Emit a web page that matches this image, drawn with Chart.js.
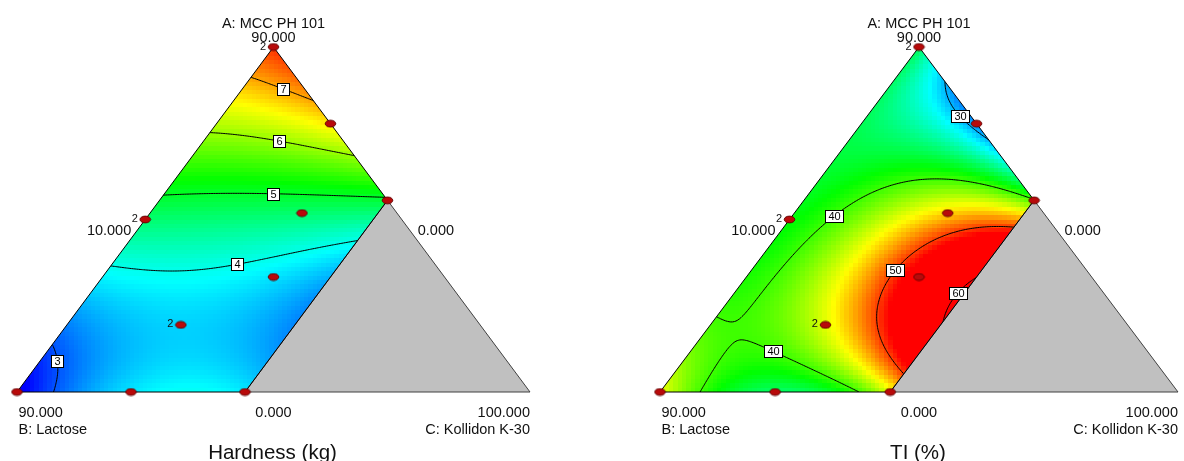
<!DOCTYPE html>
<html>
<head>
<meta charset="utf-8">
<script src="https://cdn.jsdelivr.net/npm/chart.js@4.4.1/dist/chart.umd.min.js"></script>
<style>
  html, body { margin: 0; padding: 0; background: #ffffff; }
  #wrap { display: flex; width: 1184px; height: 461px; }
  canvas { display: block; }
</style>
</head>
<body>
<div id="wrap">
  <canvas id="hardness" width="592" height="461"></canvas>
  <canvas id="ti" width="592" height="461"></canvas>
</div>
<script>
// ---- Mixture components (real units, A + B + C = 100) ----
const compNames = ['A: MCC PH 101', 'B: Lactose', 'C: Kollidon K-30'];
const compLow = [0, 0, 10];
const compHigh = [90, 90, 100];
const kollidonMax = 50;            // upper limit on C: the grey corner is outside the design space

// ---- Design runs ----
const runA = [90, 70, 50, 45, 46.67, 30, 17.5, 0, 0, 0];
const runB = [0, 0, 0, 45, 16.67, 30, 52.5, 90, 70, 50];
const runC = [10, 30, 50, 10, 36.66, 40, 30, 10, 30, 50];
const runReplicates = [2, 1, 1, 2, 1, 1, 2, 1, 1, 1];

// ---- Hardness (kg) readings over the design space (B = 100 - A - C) ----
const hardA = [
  90, 80, 80, 70, 70, 70, 60, 60, 60, 60,
  50, 50, 50, 50, 50, 40, 40, 40, 40, 40,
  30, 30, 30, 30, 30, 20, 20, 20, 20, 20,
  10, 10, 10, 10, 10, 0, 0, 0, 0, 0,
  82.1, 80.1, 75.5, 67.3, 66.3, 61.1, 51.3, 51.2, 52.7, 50.8,
  33.4, 31.8, 31.1, 34.4, 37.5, 39.8, 12.7, 7, 0
];
const hardC = [
  10, 10, 20, 10, 20, 30, 10, 20, 30, 40,
  10, 20, 30, 40, 50, 10, 20, 30, 40, 50,
  10, 20, 30, 40, 50, 10, 20, 30, 40, 50,
  10, 20, 30, 40, 50, 10, 20, 30, 40, 50,
  10, 17.1, 24.5, 10, 23.1, 38.9, 10, 20, 28.7, 49.2,
  10, 15.6, 22.4, 31.1, 40.9, 50, 10, 13.7, 16.1
];
const hardVal = [
  7.6, 6.86, 7.32, 6.18, 6.35, 6.62, 5.54, 5.60, 5.73, 5.90,
  4.93, 4.94, 4.93, 4.93, 4.93, 4.37, 4.42, 4.28, 4.15, 4.0,
  3.84, 3.95, 3.82, 3.72, 3.55, 3.25, 3.55, 3.8, 3.7, 3.3,
  2.9, 3.45, 3.78, 3.82, 3.5, 2.5, 3.2, 3.68, 3.78, 3.72,
  7, 7, 7, 6, 6, 6, 5, 5, 5, 5,
  4, 4, 4, 4, 4, 4, 3, 3, 3
];
const hardLevels = [3, 4, 5, 6, 7];

// ---- TI (%) readings over the design space (B = 100 - A - C) ----
const tiA = [
  90, 80, 80, 70, 70, 70, 60, 60, 60, 60,
  50, 50, 50, 50, 50, 40, 40, 40, 40, 40,
  30, 30, 30, 30, 30, 20, 20, 20, 20, 20,
  10, 10, 10, 10, 10, 0, 0, 0, 0, 0,
  85, 72.3, 75,
  81, 76.2, 72.3, 69.2, 64.7,
  18.8, 20.5, 26.6, 31.8, 45.5, 51.8, 54.4, 54.7, 53.6, 50.5,
  0, 4.4, 11, 11.8, 9.6, 5.7, 0,
  43.6, 42.7, 39.7, 35.3, 31.8, 24.9, 18.8, 15.3, 9.2, 5.2,
  29.2, 24.9, 21.4, 18.3
];
const tiC = [
  10, 10, 20, 10, 20, 30, 10, 20, 30, 40,
  10, 20, 30, 40, 50, 10, 20, 30, 40, 50,
  10, 20, 30, 40, 50, 10, 20, 30, 40, 50,
  10, 20, 30, 40, 50, 10, 20, 30, 40, 50,
  15, 24.6, 24.5,
  19, 22.3, 26.4, 29.8, 35.3,
  10.2, 13.5, 16.2, 17, 18, 20.2, 25.7, 29.6, 37.7, 48.9,
  16.6, 17.2, 20.6, 24, 27.5, 35.8, 44.7,
  50, 40.2, 36, 34.8, 34.8, 36, 38.6, 40.8, 45.5, 49.5,
  50, 49.2, 49.2, 50
];
const tiVal = [
  35.2, 36, 29.8, 37, 33.5, 29, 37.3, 37.8, 34.5, 33,
  38.3, 40.3, 42.6, 43.8, 40.5, 38.8, 41.2, 46.6, 51.8, 52.5,
  38.5, 41.7, 47.2, 54.5, 59.5, 40, 42.7, 46.5, 51.8, 60.8,
  42, 40, 41, 47, 54, 44.5, 38.3, 36, 38, 46,
  32.5, 31.5, 29.3,
  30, 30, 30, 30, 30,
  40, 40, 40, 40, 40, 40, 40, 40, 40, 40,
  40, 40, 40, 40, 40, 40, 40,
  50, 50, 50, 50, 50, 50, 50, 50, 50, 50,
  60, 60, 60, 60
];
const tiLevels = [30, 40, 50, 60];

// ---- Panel setup ----
const FONT = '"Liberation Sans", Arial, Helvetica, sans-serif';
const panels = {
  hardness: {
    title: 'Hardness (kg)',
    A: hardA, C: hardC, V: hardVal, levels: hardLevels, degree: 3,
    colorMin: 2.58, colorMax: 7.84,
    padding: { left: 17, right: 62, top: 47, bottom: 69 },
    labelSpots: [ {level: 7, A: 80.3, C: 16.9}, {level: 6, A: 66.4, C: 22.9},
                  {level: 5, A: 52.6, C: 28.7}, {level: 4, A: 34.2, C: 31.3},
                  {level: 3, A: 8.2, C: 13.1} ]
  },
  ti: {
    title: 'TI (%)',
    A: tiA, C: tiC, V: tiVal, levels: tiLevels, degree: 4,
    colorMin: 25.3, colorMax: 51.6,
    padding: { left: 68, right: 1, top: 47, bottom: 69 },
    labelSpots: [ {level: 30, A: 72.4, C: 26.3}, {level: 40, A: 45.4, C: 17.9},
                  {level: 50, A: 32.0, C: 34.8}, {level: 60, A: 26.3, C: 48.3},
                  {level: 40, A: 11.8, C: 24.2} ]
  }
};

// ---- Ternary helpers: pseudo components and plot coordinates ----
const span = compHigh[0] - compLow[0];
function pseudo(A, C) { return { a: (A - compLow[0]) / span, c: (C - compLow[2]) / span }; }
function toXY(A, C) { const p = pseudo(A, C); return { x: p.c + p.a / 2, y: p.a }; }
const cMax = (kollidonMax - compLow[2]) / span;

// Least-squares polynomial mixture surface in the pseudo components;
// readings taken on a contour line (value equal to a level) count three times.
function fitSurface(A, C, V, degree, levels) {
  const terms = [];
  for (let i = 0; i <= degree; i++) for (let j = 0; j <= degree - i; j++) terms.push([i, j]);
  const n = terms.length;
  const M = Array.from({ length: n }, () => new Float64Array(n + 1));
  for (let k = 0; k < V.length; k++) {
    const p = pseudo(A[k], C[k]);
    const w = levels.includes(V[k]) ? 3 : 1;
    const row = terms.map(([i, j]) => Math.pow(p.c, i) * Math.pow(p.a, j));
    for (let r = 0; r < n; r++) {
      for (let s = 0; s < n; s++) M[r][s] += w * row[r] * row[s];
      M[r][n] += w * row[r] * V[k];
    }
  }
  for (let col = 0; col < n; col++) {
    let piv = col;
    for (let r = col + 1; r < n; r++) if (Math.abs(M[r][col]) > Math.abs(M[piv][col])) piv = r;
    const tmp = M[col]; M[col] = M[piv]; M[piv] = tmp;
    for (let r = 0; r < n; r++) {
      if (r === col) continue;
      const f = M[r][col] / M[col][col];
      for (let s = col; s <= n; s++) M[r][s] -= f * M[col][s];
    }
  }
  const coef = M.map((r, i) => r[n] / r[i]);
  return (c, a) => {
    let v = 0;
    for (let t = 0; t < n; t++) v += coef[t] * Math.pow(c, terms[t][0]) * Math.pow(a, terms[t][1]);
    return v;
  };
}

// Blue - cyan - green - yellow - red colour ramp
const ramp = [[0, 0, 255], [0, 255, 255], [0, 255, 0], [255, 255, 0], [255, 0, 0]];
function rampColor(t) {
  t = Math.max(0, Math.min(1, t)) * 4;
  const i = Math.min(3, Math.floor(t)), f = t - i;
  const c0 = ramp[i], c1 = ramp[i + 1];
  return 'rgb(' + Math.round(c0[0] + (c1[0] - c0[0]) * f) + ',' +
    Math.round(c0[1] + (c1[1] - c0[1]) * f) + ',' + Math.round(c0[2] + (c1[2] - c0[2]) * f) + ')';
}

// Marching squares over the plot box (x, y in [0, 1])
const msTable = {1: [[3, 0]], 2: [[0, 1]], 3: [[3, 1]], 4: [[1, 2]], 5: [[3, 0], [1, 2]], 6: [[0, 2]],
  7: [[2, 3]], 8: [[2, 3]], 9: [[0, 2]], 10: [[0, 1], [2, 3]], 11: [[1, 2]], 12: [[1, 3]],
  13: [[0, 1]], 14: [[3, 0]]};
function contourSegments(grid, nx, ny, level) {
  const segs = [];
  const lerp = (x0, y0, v0, x1, y1, v1) => { const t = (level - v0) / (v1 - v0); return [x0 + (x1 - x0) * t, y0 + (y1 - y0) * t]; };
  for (let j = 0; j < ny; j++) {
    for (let i = 0; i < nx; i++) {
      const x0 = i / nx, x1 = (i + 1) / nx, y0 = j / ny, y1 = (j + 1) / ny;
      const v0 = grid[j][i], v1 = grid[j][i + 1], v2 = grid[j + 1][i + 1], v3 = grid[j + 1][i];
      const idx = (v0 > level ? 1 : 0) | (v1 > level ? 2 : 0) | (v2 > level ? 4 : 0) | (v3 > level ? 8 : 0);
      if (idx === 0 || idx === 15) continue;
      const edge = k => {
        if (k === 0) return lerp(x0, y0, v0, x1, y0, v1);
        if (k === 1) return lerp(x1, y0, v1, x1, y1, v2);
        if (k === 2) return lerp(x1, y1, v2, x0, y1, v3);
        return lerp(x0, y1, v3, x0, y0, v0);
      };
      for (const pq of msTable[idx]) segs.push([edge(pq[0]), edge(pq[1])]);
    }
  }
  return segs;
}

// Elliptical marker for design runs
function makeMarker() {
  const cv = document.createElement('canvas');
  cv.width = 13; cv.height = 9;
  const g = cv.getContext('2d');
  g.beginPath();
  g.ellipse(6.5, 4.5, 5.3, 3.4, 0, 0, Math.PI * 2);
  g.fillStyle = '#b80a0a'; g.fill();
  g.lineWidth = 0.9; g.strokeStyle = '#5a0000'; g.stroke();
  return cv;
}
const marker = makeMarker();

// Draws the shaded response surface, constraint region, contours and axis text
const ternaryPlugin = {
  id: 'ternarySurface',
  beforeDatasetsDraw(chart) {
    const panel = panels[chart.canvas.id];
    const ctx = chart.ctx, xs = chart.scales.x, ys = chart.scales.y;
    const P = (x, y) => [xs.getPixelForValue(x), ys.getPixelForValue(y)];
    const f = panel.surface;

    const apex = P(0.5, 1), vB = P(0, 0), vC = P(1, 0);
    const rEdge = P(cMax + (1 - cMax) / 2, 1 - cMax), bEdge = P(cMax, 0);
    const feasible = [apex, rEdge, bEdge, vB];

    // shaded cells
    ctx.save();
    ctx.beginPath();
    feasible.forEach((p, i) => i ? ctx.lineTo(p[0], p[1]) : ctx.moveTo(p[0], p[1]));
    ctx.closePath();
    ctx.clip();
    const ncx = 118, ncy = 80;
    for (let j = 0; j < ncy; j++) {
      const yv0 = j / ncy, yv1 = (j + 1) / ncy, ym = (yv0 + yv1) / 2;
      const py0 = Math.round(ys.getPixelForValue(yv1)), py1 = Math.round(ys.getPixelForValue(yv0));
      for (let i = 0; i < ncx; i++) {
        const xv0 = i / ncx, xv1 = (i + 1) / ncx, xm = (xv0 + xv1) / 2;
        const a = ym, c = xm - ym / 2;
        if (a < -0.02 || c < -0.03 || a + c > 1.03 || c > cMax + 0.03) continue;
        const v = f(c, a);
        ctx.fillStyle = rampColor((v - panel.colorMin) / (panel.colorMax - panel.colorMin));
        const px0 = Math.round(xs.getPixelForValue(xv0)), px1 = Math.round(xs.getPixelForValue(xv1));
        ctx.fillRect(px0, py0, px1 - px0, py1 - py0);
      }
    }

    // contour lines
    const nx = 300, ny = 220;
    const grid = [];
    for (let j = 0; j <= ny; j++) {
      const row = [];
      for (let i = 0; i <= nx; i++) { const y = j / ny, x = i / nx; row.push(f(x - y / 2, y)); }
      grid.push(row);
    }
    const segsByLevel = {};
    ctx.strokeStyle = '#000000';
    ctx.lineWidth = 1;
    for (const lv of panel.levels) {
      const segs = contourSegments(grid, nx, ny, lv);
      segsByLevel[lv] = segs;
      ctx.beginPath();
      for (const s of segs) {
        const p0 = P(s[0][0], s[0][1]), p1 = P(s[1][0], s[1][1]);
        ctx.moveTo(p0[0], p0[1]); ctx.lineTo(p1[0], p1[1]);
      }
      ctx.stroke();
    }
    ctx.restore();

    // region outside the Kollidon limit
    ctx.beginPath();
    ctx.moveTo(rEdge[0], rEdge[1]); ctx.lineTo(vC[0], vC[1]); ctx.lineTo(bEdge[0], bEdge[1]); ctx.closePath();
    ctx.fillStyle = '#c0c0c0'; ctx.fill();
    ctx.lineWidth = 1; ctx.strokeStyle = '#404040'; ctx.stroke();

    ctx.beginPath();
    feasible.forEach((p, i) => i ? ctx.lineTo(p[0], p[1]) : ctx.moveTo(p[0], p[1]));
    ctx.closePath();
    ctx.strokeStyle = '#000000'; ctx.stroke();

    // contour value boxes
    ctx.font = '11px ' + FONT;
    ctx.textAlign = 'center'; ctx.textBaseline = 'middle';
    for (const spot of panel.labelSpots) {
      const q = toXY(spot.A, spot.C);
      const target = P(q.x, q.y);
      let best = target, bestD = Infinity;
      for (const s of segsByLevel[spot.level] || []) {
        const m = P((s[0][0] + s[1][0]) / 2, (s[0][1] + s[1][1]) / 2);
        const d = (m[0] - target[0]) ** 2 + (m[1] - target[1]) ** 2;
        if (d < bestD) { bestD = d; best = m; }
      }
      if (bestD > 400) best = target;
      const txt = String(spot.level);
      const w = Math.round(ctx.measureText(txt).width) + 6, h = 12;
      const bx = Math.round(best[0] - w / 2) + 0.5, by = Math.round(best[1] - h / 2) + 0.5;
      ctx.fillStyle = '#ffffff'; ctx.fillRect(bx, by, w, h);
      ctx.strokeStyle = '#000000'; ctx.strokeRect(bx, by, w, h);
      ctx.fillStyle = '#000000'; ctx.fillText(txt, bx + w / 2, by + h / 2 + 0.5);
    }
  },
  afterDatasetsDraw(chart) {
    const panel = panels[chart.canvas.id];
    const ctx = chart.ctx, xs = chart.scales.x, ys = chart.scales.y;
    const { left: L, right: R, top: T, bottom: B } = chart.chartArea;
    const mx = (L + R) / 2, my = (T + B) / 2;
    const fmt = v => v.toFixed(3);
    ctx.save();
    ctx.fillStyle = '#111111';
    ctx.textBaseline = 'alphabetic';

    // replicate counts beside design runs
    ctx.font = '11px ' + FONT;
    ctx.textAlign = 'right';
    for (let k = 0; k < runA.length; k++) {
      if (runReplicates[k] < 2) continue;
      const q = toXY(runA[k], runC[k]);
      ctx.fillText(String(runReplicates[k]), xs.getPixelForValue(q.x) - 7.5, ys.getPixelForValue(q.y) + 2.5);
    }

    // vertex and edge values
    ctx.font = '14.5px ' + FONT;
    ctx.textAlign = 'center';
    ctx.fillText(compNames[0], mx, T - 19);
    ctx.fillText(fmt(compHigh[0]), mx, T - 5);
    ctx.fillText(fmt(compLow[0]), mx, B + 25);
    ctx.textAlign = 'right';
    ctx.fillText(fmt(compLow[2]), (L + mx) / 2 - 14, my + 15);
    ctx.fillText(fmt(compHigh[2]), R, B + 25);
    ctx.fillText(compNames[2], R, B + 42);
    ctx.textAlign = 'left';
    ctx.fillText(fmt(compLow[1]), (mx + R) / 2 + 16, my + 15);
    ctx.fillText(fmt(compHigh[1]), L + 1.5, B + 25);
    ctx.fillText(compNames[1], L + 1.5, B + 42);

    // response name
    ctx.font = '20.5px ' + FONT;
    ctx.textAlign = 'center';
    ctx.fillText(panel.title, mx - 1, B + 67);
    ctx.restore();
  }
};

const runPoints = runA.map((A, k) => toXY(A, runC[k]));

for (const id of Object.keys(panels)) {
  const panel = panels[id];
  panel.surface = fitSurface(panel.A, panel.C, panel.V, panel.degree, panel.levels);
  new Chart(document.getElementById(id), {
    type: 'scatter',
    data: {
      datasets: [{
        label: 'Design runs',
        data: runPoints,
        pointStyle: marker,
        pointRadius: 5,
        pointHoverRadius: 5,
        clip: false
      }]
    },
    options: {
      responsive: false,
      animation: false,
      events: [],
      layout: { padding: panel.padding },
      plugins: {
        legend: { display: false },
        tooltip: { enabled: false },
        title: { display: false }
      },
      scales: {
        x: { type: 'linear', min: 0, max: 1, display: false },
        y: { type: 'linear', min: 0, max: 1, display: false }
      }
    },
    plugins: [ternaryPlugin]
  });
}
</script>
</body>
</html>
